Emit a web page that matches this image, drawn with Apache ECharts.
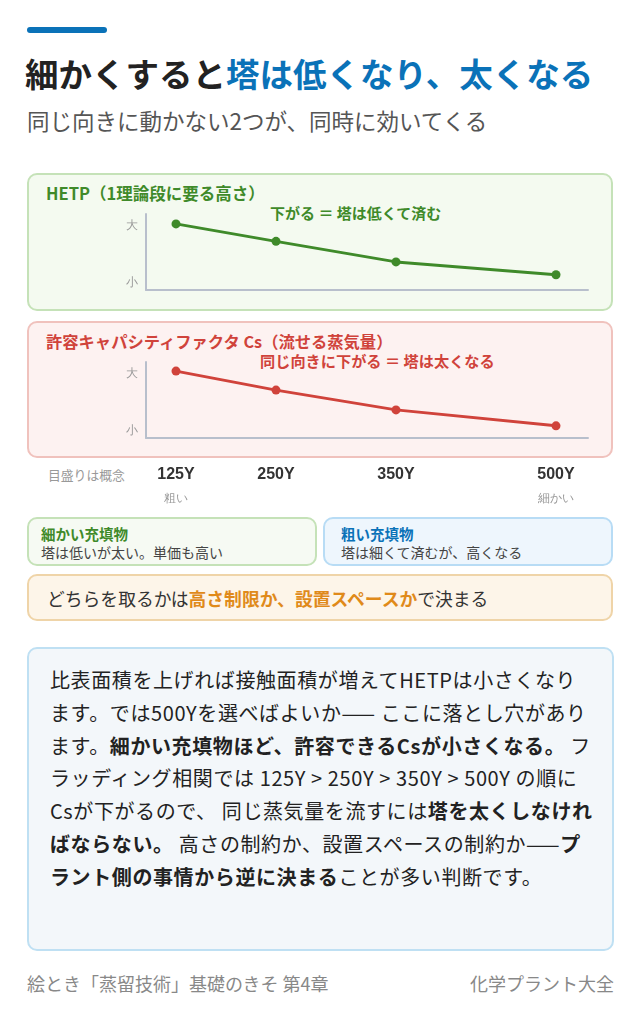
<!DOCTYPE html>
<html><head><meta charset="utf-8">
<script src="https://cdn.jsdelivr.net/npm/echarts@6/dist/echarts.min.js"></script>
<style>
body{margin:0;width:640px;height:1021px;background:#fff;font-family:"Noto Sans CJK JP","Noto Sans",sans-serif;position:relative;overflow:hidden;color:#333}
.a{position:absolute;box-sizing:border-box}
.box{border-radius:10px;border:2px solid}
b{font-weight:700}
</style></head><body>
<div class="a" style="left:27px;top:27px;width:80px;height:6px;background:#0a72b8;border-radius:3px"></div>
<div class="a" style="left:25px;top:48px;font-size:33.5px;font-weight:700;color:#222;white-space:nowrap">細かくすると<span style="color:#0a72b8">塔は低くなり、太くなる</span></div>
<div class="a" style="left:27px;top:104px;font-size:22.5px;color:#555;white-space:nowrap">同じ向きに動かない2つが、同時に効いてくる</div>

<div class="a box" style="left:27px;top:173px;width:586px;height:138px;background:#f4faf0;border-color:#c5e2b8"></div>
<div class="a" style="left:46px;top:181px;font-size:16.5px;font-weight:700;color:#3f8a2a;white-space:nowrap">HETP（1理論段に要る高さ）</div>
<div class="a" style="left:270px;top:202px;font-size:15px;font-weight:700;color:#3f8a2a;white-space:nowrap">下がる ＝ 塔は低くて済む</div>

<div class="a box" style="left:27px;top:321px;width:586px;height:137px;background:#fdf2f1;border-color:#f0c2bd"></div>
<div class="a" style="left:46px;top:329px;font-size:16.3px;font-weight:700;color:#d0433b;white-space:nowrap">許容キャパシティファクタ Cs（流せる蒸気量）</div>
<div class="a" style="left:260px;top:349px;font-size:15.2px;font-weight:700;color:#d0433b;white-space:nowrap">同じ向きに下がる ＝ 塔は太くなる</div>
<div class="a" style="left:48px;top:465px;font-size:12.8px;color:#999;white-space:nowrap">目盛りは概念</div>

<div id="chart" class="a" style="left:0;top:0;width:640px;height:510px"></div>

<div class="a box" style="left:27px;top:517px;width:290px;height:49px;background:#f6faf3;border-color:#c5e2b8;padding:5px 0 0 12px">
<div style="font-size:14.5px;font-weight:700;color:#3f8a2a;line-height:19px">細かい充填物</div>
<div style="font-size:14px;color:#444;line-height:19px">塔は低いが太い。単価も高い</div></div>
<div class="a box" style="left:323px;top:517px;width:290px;height:49px;background:#eef6fd;border-color:#b8dcf5;padding:5px 0 0 16px">
<div style="font-size:14.5px;font-weight:700;color:#0a72b8;line-height:19px">粗い充填物</div>
<div style="font-size:14px;color:#444;line-height:19px">塔は細くて済むが、高くなる</div></div>
<div class="a box" style="left:27px;top:574px;width:586px;height:47px;background:#fdf5e9;border-color:#efd4a8;padding:9px 0 0 18px;font-size:17.8px;color:#333;white-space:nowrap">どちらを取るかは<b style="color:#e08a1a">高さ制限か、設置スペースか</b>で決まる</div>

<div class="a box" style="left:27px;top:647px;width:587px;height:304px;background:#f3f7fa;border-color:#bfe0f3;padding:15px 18px 0 21px;font-size:20px;letter-spacing:0.6px;line-height:32.8px;color:#222">比表面積を上げれば接触面積が増えてHETPは小さくなります。では500Yを選べばよいか—— ここに落とし穴があります。<b>細かい充填物ほど、許容できるCsが小さくなる。</b> フラッディング相関では 125Y &gt; 250Y &gt; 350Y &gt; 500Y の順にCsが下がるので、 同じ蒸気量を流すには<b>塔を太くしなければならない。</b> 高さの制約か、設置スペースの制約か——<b>プラント側の事情から逆に決まる</b>ことが多い判断です。</div>

<div class="a" style="left:27px;top:970px;font-size:18px;color:#888;white-space:nowrap">絵とき「蒸留技術」基礎のきそ 第4章</div>
<div class="a" style="right:26px;top:970px;font-size:18px;color:#888;white-space:nowrap">化学プラント大全</div>

<script>
var xPos = [0, 1, 2.2, 3.8];
var gradeLabels = ['125Y', '250Y', '350Y', '500Y'];
var subLabels = ['粗い', '', '', '細かい'];
var hetpValues = [8.7, 6.4, 3.7, 2.0];
var csValues = [8.8, 6.3, 3.7, 1.6];
var yTickValues = [1, 8.5];
var yTickLabels = ['小', '大'];

function pairs(vals) {
    return vals.map(function(v, i) { return [xPos[i], v]; });
}
function xAxis(idx, showLabel) {
    return {
        type: 'value', gridIndex: idx, min: -0.3, max: 4.12,
        axisLine: {show: true, onZero: false, lineStyle: {color: '#b8bfcc', width: 2}},
        axisTick: {show: false}, splitLine: {show: false},
        axisLabel: {
            show: showLabel, customValues: xPos, margin: 26, lineHeight: 22,
            formatter: function(v) {
                var i = xPos.indexOf(v);
                return '{a|' + gradeLabels[i] + '}\n{b|' + (subLabels[i] || ' ') + '}';
            },
            rich: {
                a: {fontSize: 16, fontWeight: 'bold', color: '#333'},
                b: {fontSize: 12, color: '#999', padding: [4, 0, 0, 0]}
            }
        }
    };
}
function yAxis(idx) {
    return {
        type: 'value', gridIndex: idx, min: 0, max: 10,
        axisLine: {show: true, onZero: false, lineStyle: {color: '#b8bfcc', width: 2}},
        axisTick: {show: false}, splitLine: {show: false},
        axisLabel: {
            customValues: yTickValues, color: '#999', fontSize: 12, margin: 8,
            formatter: function(v) { return yTickLabels[yTickValues.indexOf(v)]; }
        }
    };
}
function line(idx, vals, color) {
    return {
        type: 'line', xAxisIndex: idx, yAxisIndex: idx, data: pairs(vals),
        symbol: 'circle', symbolSize: 9, silent: true,
        lineStyle: {color: color, width: 3}, itemStyle: {color: color}
    };
}
var option = {
    animation: false,
    grid: [
        {left: 146, right: 52, top: 214, height: 76},
        {left: 146, right: 52, top: 362, height: 76}
    ],
    xAxis: [xAxis(0, false), xAxis(1, true)],
    yAxis: [yAxis(0), yAxis(1)],
    series: [line(0, hetpValues, '#3f8a2a'), line(1, csValues, '#d0433b')]
};
var myChart = echarts.init(document.getElementById('chart'));
myChart.setOption(option);
</script>
</body></html>
